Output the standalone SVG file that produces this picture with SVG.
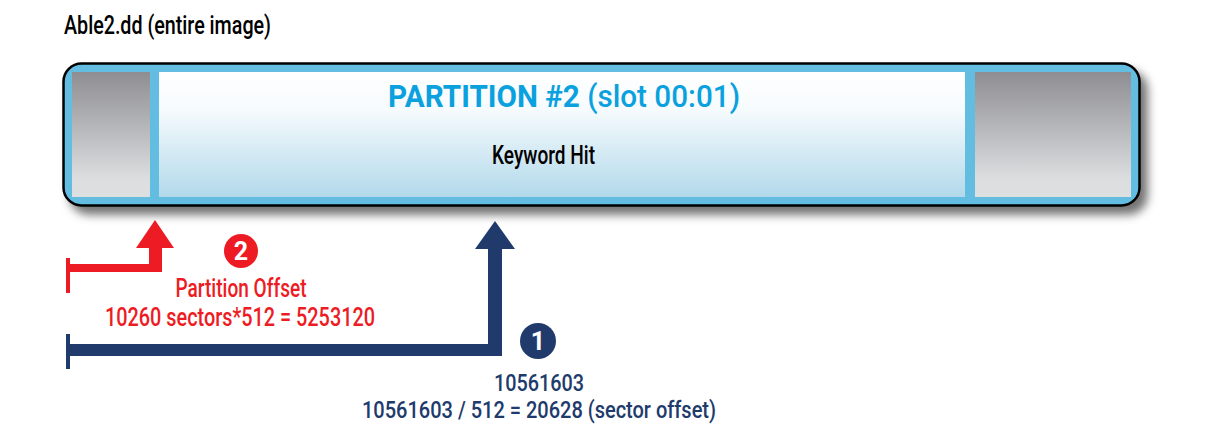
<svg xmlns="http://www.w3.org/2000/svg" width="1226" height="425" viewBox="0 0 1226 425">
<defs>
<linearGradient id="gray" x1="0" y1="0" x2="0" y2="1">
<stop offset="0" stop-color="#8E8E92"/>
<stop offset="0.85" stop-color="#DCDDDF"/>
<stop offset="1" stop-color="#DEDFE1"/>
</linearGradient>
<linearGradient id="blue" x1="0" y1="0" x2="0" y2="1">
<stop offset="0" stop-color="#FFFFFF"/>
<stop offset="0.3" stop-color="#F6FBFD"/>
<stop offset="1" stop-color="#B2D9EB"/>
</linearGradient>
<filter id="shadow" x="-5%" y="-20%" width="115%" height="160%">
<feDropShadow dx="7" dy="8" stdDeviation="5" flood-color="#000" flood-opacity="0.55"/>
</filter>
</defs>
<style>
text{font-family:Roboto,"DejaVu Sans Condensed","Liberation Sans",sans-serif;font-weight:500;}
.lbl{font-size:26px;fill:#000;}
.red{fill:#ED1C24;}
.navy{fill:#203A6C;}
.rt{font-size:26px;fill:#ED1C24;text-anchor:middle;}
.nt{font-size:24px;fill:#203A6C;text-anchor:middle;}
.num{font-size:25px;font-weight:bold;fill:#fff;text-anchor:middle;}
</style>
<rect width="1226" height="425" fill="#fff"/>
<text id="caption" class="lbl" x="64" y="34" textLength="207" lengthAdjust="spacingAndGlyphs">Able2.dd (entire image)</text>
<g id="image">
<rect x="63.5" y="63.5" width="1076" height="142" rx="18" fill="#63BDE0" stroke="#000" stroke-width="2.5" filter="url(#shadow)"/>
</g>
<g id="slack-left"><rect x="72" y="72" width="78" height="125" fill="url(#gray)"/></g>
<g id="partition2">
<rect x="159" y="72" width="806" height="125" fill="url(#blue)"/>
<text x="388" y="107" font-size="32" fill="#0AA1DE" textLength="352" lengthAdjust="spacingAndGlyphs"><tspan font-weight="bold">PARTITION #2</tspan> (slot 00:01)</text>
<text x="492" y="164" font-size="25" fill="#000" textLength="103" lengthAdjust="spacingAndGlyphs">Keyword Hit</text>
</g>
<g id="slack-right"><rect x="975" y="72" width="156" height="125" fill="url(#gray)"/></g>
<g id="connectors">
<g id="partition-offset-arrow" class="red">
<rect x="66" y="258" width="4" height="35"/>
<rect x="66" y="264" width="96" height="8"/>
<rect x="149" y="246" width="13" height="26"/>
<polygon points="155,220 136,248 174,248"/>
</g>
<g id="sector-offset-arrow" class="navy">
<rect x="66" y="334" width="4" height="35"/>
<rect x="66" y="344" width="436" height="12"/>
<rect x="488" y="246" width="14" height="110"/>
<polygon points="495,221 475,249 515,249"/>
</g>
</g>
<g id="badge2">
<circle cx="241" cy="251" r="17" fill="#ED1C24"/>
<text class="num" x="241" y="260">2</text>
</g>
<g id="offset-label">
<text class="rt" x="241" y="297" textLength="131" lengthAdjust="spacingAndGlyphs">Partition Offset</text>
<text class="rt" x="240" y="326" textLength="270" lengthAdjust="spacingAndGlyphs">10260 sectors*512 = 5253120</text>
</g>
<g id="badge1">
<circle cx="538" cy="341" r="18" fill="#203A6C"/>
<text class="num" x="538" y="350">1</text>
</g>
<g id="hit-label">
<text class="nt" x="539" y="391" textLength="90" lengthAdjust="spacingAndGlyphs">10561603</text>
<text class="nt" x="539" y="418" textLength="354" lengthAdjust="spacingAndGlyphs">10561603 / 512 = 20628 (sector offset)</text>
</g>
</svg>
